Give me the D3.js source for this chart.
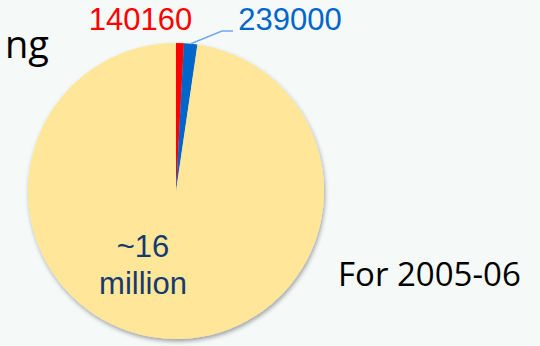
<!DOCTYPE html>
<html>
<head>
<meta charset="utf-8">
<script src="https://cdn.jsdelivr.net/npm/d3@7"></script>
<style>
  html, body { margin: 0; padding: 0; background: #f5f9f7; }
  svg { display: block; }
</style>
</head>
<body>
<svg id="chart" width="540" height="346"></svg>
<script>
// Slices, clockwise from twelve o'clock
const categories = ["A", "B", "Rest"];
const values = [140160, 239000, 16000000];
const labels = ["140160", "239000", "~16\nmillion"];
const colors = ["#ff0000", "#0066cc", "#ffe699"];

const svg = d3.select("#chart");
const cx = 176, cy = 191, R = 148;

const defs = svg.append("defs");
const shadow = defs.append("filter").attr("id", "shadow")
  .attr("x", "-10%").attr("y", "-10%").attr("width", "125%").attr("height", "125%");
shadow.append("feDropShadow")
  .attr("dx", 1).attr("dy", 2.5).attr("stdDeviation", 2.2)
  .attr("flood-color", "#000").attr("flood-opacity", 0.35);

// Partial heading text at the left edge
svg.append("text")
  .attr("x", 49).attr("y", 58)
  .attr("text-anchor", "end")
  .attr("font-family", "'Open Sans', sans-serif")
  .attr("font-size", 38)
  .attr("fill", "#000")
  .text("ng");

const pie = d3.pie().sort(null).value(d => d.v);
const data = categories.map((c, i) => ({ c, v: values[i], label: labels[i], color: colors[i] }));
const arcs = pie(data);
const arc = d3.arc().innerRadius(0).outerRadius(R);

const g = svg.append("g").attr("transform", `translate(${cx},${cy})`);
g.append("g").attr("filter", "url(#shadow)")
  .selectAll("path").data(arcs).join("path")
  .attr("d", arc)
  .attr("fill", d => d.data.color);

// Small-slice labels above the pie
const font = "'Liberation Sans', Arial, sans-serif";
const outer = d3.arc().innerRadius(R).outerRadius(R);

// red label sits directly above its slice
g.append("text")
  .attr("x", 140.5 - cx).attr("y", 30 - cy)
  .attr("text-anchor", "middle")
  .attr("font-family", font).attr("font-size", 31)
  .attr("fill", colors[0])
  .text(labels[0]);

// blue label with a leader line
const blueEdge = outer.centroid(arcs[1]);
const elbow = [222 - cx, 31 - cy];
const lineEnd = [233 - cx, 31 - cy];
g.append("polyline")
  .attr("points", [blueEdge, elbow, lineEnd].map(p => p.join(",")).join(" "))
  .attr("fill", "none")
  .attr("stroke", "#6fa8f5")
  .attr("stroke-width", 1.5);
g.append("text")
  .attr("x", 290 - cx).attr("y", 30 - cy)
  .attr("text-anchor", "middle")
  .attr("font-family", font).attr("font-size", 31)
  .attr("fill", colors[1])
  .text(labels[1]);

// large slice label inside
const bigLabel = g.append("text")
  .attr("x", 143 - cx).attr("y", 257 - cy)
  .attr("text-anchor", "middle")
  .attr("font-family", font).attr("font-size", 31)
  .attr("fill", "#163a6e");
labels[2].split("\n").forEach((t, i) => {
  bigLabel.append("tspan")
    .attr("x", 143 - cx)
    .attr("dy", i === 0 ? 0 : 37)
    .text(t);
});

// Period note
svg.append("text")
  .attr("x", 338).attr("y", 286)
  .attr("font-family", "'Open Sans', sans-serif")
  .attr("font-size", 33)
  .attr("fill", "#000")
  .text("For 2005-06");
</script>
</body>
</html>
